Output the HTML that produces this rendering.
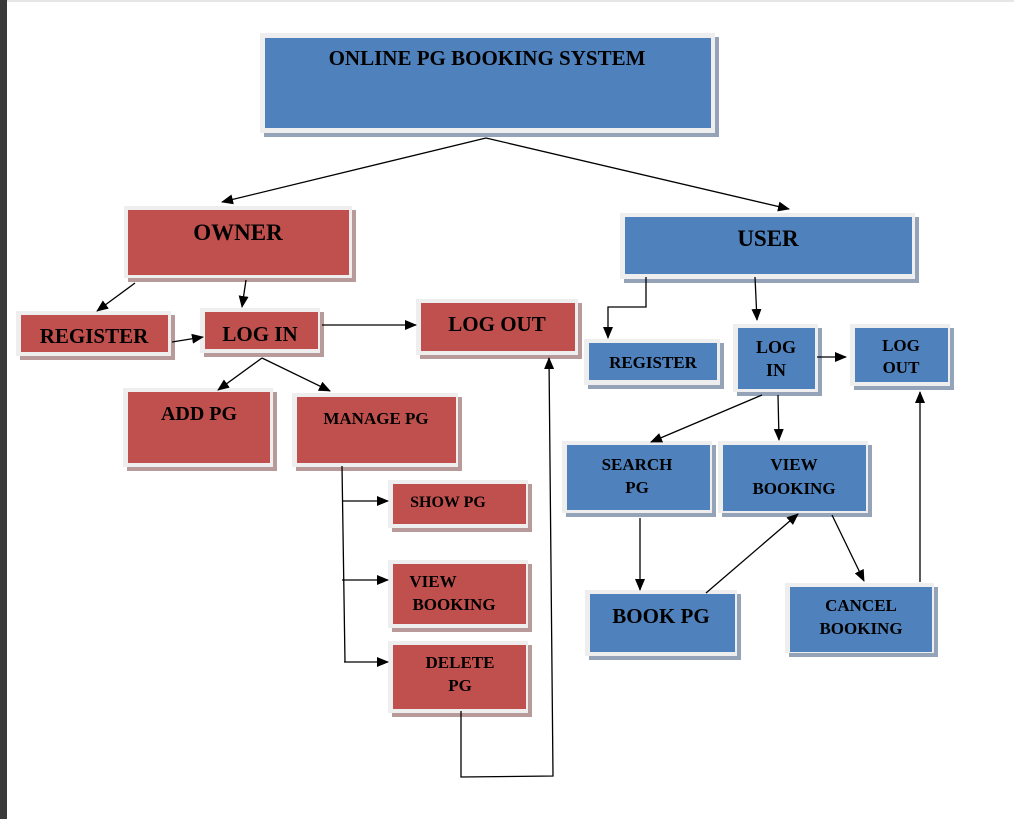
<!DOCTYPE html>
<html><head><meta charset="utf-8"><style>
html,body{margin:0;padding:0;background:#fff;}
svg{display:block;}
text{font-family:"Liberation Serif",serif;font-weight:bold;fill:#000;text-anchor:middle;}
</style></head><body>
<svg width="1014" height="819" viewBox="0 0 1014 819" xmlns="http://www.w3.org/2000/svg">
<defs>
<marker id="a" markerWidth="12" markerHeight="10" refX="11" refY="5" orient="auto" markerUnits="userSpaceOnUse"><path d="M0,0 L12,5 L0,10 z" fill="#000"/></marker>
</defs>
<rect x="0" y="0" width="1014" height="819" fill="#fff"/>
<rect x="0" y="0" width="1014" height="2" fill="#e6e6e6"/>
<rect x="0" y="0" width="7" height="819" fill="#3a3a3a"/>

<g id="boxes">
<rect x="264" y="37" width="455" height="100" fill="#95a3b8"/><rect x="260" y="33" width="455" height="100" fill="#eee"/><rect x="265" y="38" width="446" height="90" fill="#4f81bd"/>
<text x="487" y="65" font-size="21">ONLINE PG BOOKING SYSTEM</text>
<rect x="128" y="210" width="228" height="72" fill="#b89a9a"/><rect x="124" y="206" width="228" height="72" fill="#eee"/><rect x="128" y="210" width="221" height="65" fill="#c0504d"/>
<text x="238" y="240" font-size="23">OWNER</text>
<rect x="624" y="217" width="295" height="66" fill="#95a3b8"/><rect x="620" y="213" width="295" height="66" fill="#eee"/><rect x="625" y="217" width="287" height="57" fill="#4f81bd"/>
<text x="768" y="246" font-size="23">USER</text>
<rect x="20" y="315" width="155" height="45" fill="#b89a9a"/><rect x="16" y="311" width="155" height="45" fill="#eee"/><rect x="21" y="315" width="147" height="37" fill="#c0504d"/>
<text x="94" y="343" font-size="21">REGISTER</text>
<rect x="204" y="312" width="120" height="45" fill="#b89a9a"/><rect x="200" y="308" width="120" height="45" fill="#eee"/><rect x="205" y="312" width="113" height="37" fill="#c0504d"/>
<text x="260" y="341" font-size="21">LOG IN</text>
<rect x="420" y="303" width="162" height="56" fill="#b89a9a"/><rect x="416" y="299" width="162" height="56" fill="#eee"/><rect x="421" y="303" width="154" height="48" fill="#c0504d"/>
<text x="497" y="331" font-size="21">LOG OUT</text>
<rect x="127" y="392" width="150" height="79" fill="#b89a9a"/><rect x="123" y="388" width="150" height="79" fill="#eee"/><rect x="128" y="392" width="142" height="71" fill="#c0504d"/>
<text x="199" y="420" font-size="20">ADD PG</text>
<rect x="296" y="397" width="166" height="74" fill="#b89a9a"/><rect x="292" y="393" width="166" height="74" fill="#eee"/><rect x="297" y="397" width="159" height="66" fill="#c0504d"/>
<text x="376" y="424" font-size="17">MANAGE PG</text>
<rect x="392" y="484" width="140" height="48" fill="#b89a9a"/><rect x="388" y="480" width="140" height="48" fill="#eee"/><rect x="393" y="484" width="133" height="40" fill="#c0504d"/>
<text x="448" y="507" font-size="16">SHOW PG</text>
<rect x="392" y="564" width="140" height="68" fill="#b89a9a"/><rect x="388" y="560" width="140" height="68" fill="#eee"/><rect x="393" y="564" width="133" height="60" fill="#c0504d"/>
<text x="433" y="587" font-size="17">VIEW</text><text x="454" y="610" font-size="17">BOOKING</text>
<rect x="392" y="645" width="140" height="72" fill="#b89a9a"/><rect x="388" y="641" width="140" height="72" fill="#eee"/><rect x="393" y="645" width="133" height="64" fill="#c0504d"/>
<text x="460" y="668" font-size="17">DELETE</text><text x="460" y="691" font-size="17">PG</text>
<rect x="588" y="343" width="136" height="46" fill="#95a3b8"/><rect x="584" y="339" width="136" height="46" fill="#eee"/><rect x="589" y="343" width="128" height="37" fill="#4f81bd"/>
<text x="653" y="368" font-size="17">REGISTER</text>
<rect x="737" y="328" width="85" height="68" fill="#95a3b8"/><rect x="733" y="324" width="85" height="68" fill="#eee"/><rect x="738" y="328" width="77" height="61" fill="#4f81bd"/>
<text x="776" y="353" font-size="18">LOG</text><text x="776" y="376" font-size="18">IN</text>
<rect x="854" y="328" width="100" height="62" fill="#95a3b8"/><rect x="850" y="324" width="100" height="62" fill="#eee"/><rect x="855" y="328" width="93" height="54" fill="#4f81bd"/>
<text x="901" y="351" font-size="17">LOG</text><text x="901" y="373" font-size="17">OUT</text>
<rect x="566" y="445" width="150" height="72" fill="#95a3b8"/><rect x="562" y="441" width="150" height="72" fill="#eee"/><rect x="567" y="445" width="143" height="65" fill="#4f81bd"/>
<text x="637" y="470" font-size="17">SEARCH</text><text x="637" y="493" font-size="17">PG</text>
<rect x="722" y="445" width="150" height="72" fill="#95a3b8"/><rect x="718" y="441" width="150" height="72" fill="#eee"/><rect x="723" y="445" width="143" height="66" fill="#4f81bd"/>
<text x="794" y="470" font-size="17">VIEW</text><text x="794" y="494" font-size="17">BOOKING</text>
<rect x="589" y="594" width="152" height="66" fill="#95a3b8"/><rect x="585" y="590" width="152" height="66" fill="#eee"/><rect x="590" y="594" width="145" height="58" fill="#4f81bd"/>
<text x="661" y="623" font-size="21">BOOK PG</text>
<rect x="789" y="587" width="149" height="70" fill="#95a3b8"/><rect x="785" y="583" width="149" height="70" fill="#eee"/><rect x="790" y="587" width="142" height="65" fill="#4f81bd"/>
<text x="861" y="611" font-size="17">CANCEL</text><text x="861" y="634" font-size="17">BOOKING</text>
</g>

<g stroke="#000" stroke-width="1.3" fill="none">
<line x1="486" y1="138" x2="222" y2="202" marker-end="url(#a)"/>
<line x1="486" y1="138" x2="789" y2="209" marker-end="url(#a)"/>
<line x1="135" y1="283" x2="97" y2="311" marker-end="url(#a)"/>
<line x1="246" y1="280" x2="242" y2="307" marker-end="url(#a)"/>
<line x1="172" y1="342" x2="203" y2="337" marker-end="url(#a)"/>
<line x1="322" y1="325" x2="416" y2="325" marker-end="url(#a)"/>
<line x1="262" y1="358" x2="218" y2="390" marker-end="url(#a)"/>
<line x1="262" y1="358" x2="330" y2="391" marker-end="url(#a)"/>
<polyline points="342,466 345,662"/>
<line x1="342" y1="501" x2="388" y2="501" marker-end="url(#a)"/>
<line x1="342" y1="580" x2="388" y2="580" marker-end="url(#a)"/>
<line x1="344" y1="662" x2="388" y2="662" marker-end="url(#a)"/>
<polyline points="461,711 461,777 553,776 549,358" marker-end="url(#a)"/>
<polyline points="646,277 646,307 608,307 608,338" marker-end="url(#a)"/>
<line x1="755" y1="277" x2="757" y2="320" marker-end="url(#a)"/>
<line x1="817" y1="357" x2="846" y2="357" marker-end="url(#a)"/>
<line x1="762" y1="395" x2="651" y2="442" marker-end="url(#a)"/>
<line x1="778" y1="395" x2="779" y2="440" marker-end="url(#a)"/>
<line x1="640" y1="518" x2="640" y2="590" marker-end="url(#a)"/>
<line x1="706" y1="593" x2="798" y2="514" marker-end="url(#a)"/>
<line x1="832" y1="515" x2="864" y2="581" marker-end="url(#a)"/>
<line x1="920" y1="582" x2="920" y2="392" marker-end="url(#a)"/>
</g>
</svg>
</body></html>
